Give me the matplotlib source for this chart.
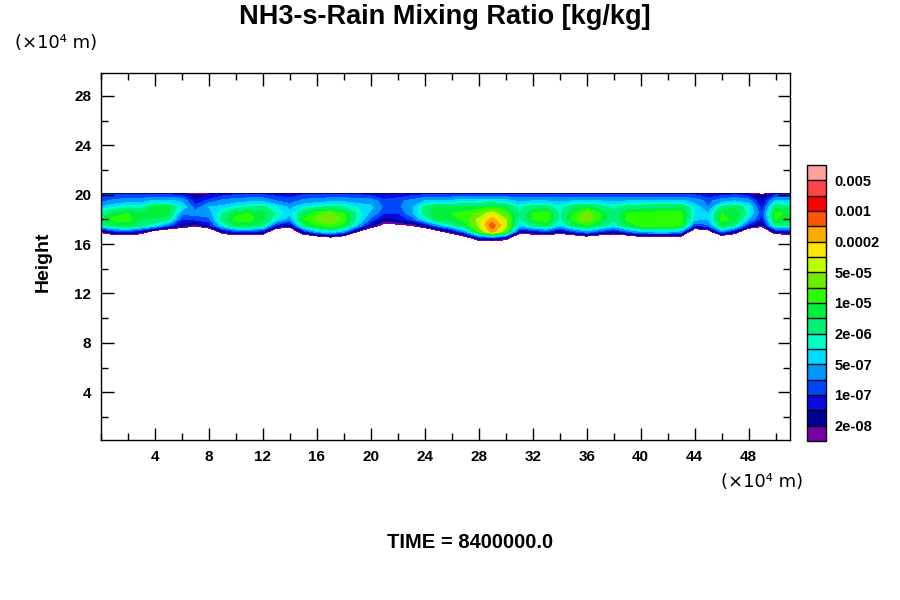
import numpy as np
import matplotlib
matplotlib.use('Agg')
import matplotlib.pyplot as plt
from matplotlib.ticker import MultipleLocator

plt.rcParams['font.family'] = ['Liberation Sans', 'DejaVu Sans']
plt.rcParams['font.weight'] = 'bold'

# horizontal positions (x10^4 m) of the sampled columns
x_pos = list(range(0, 53))
# heights (x10^4 m) of the sampled rows
heights = [16.0, 16.5, 17.0, 17.5, 18.0, 18.5, 19.0, 19.5, 20.0, 20.25]
# log10 of the mixing ratio [kg/kg], one list per column (bottom -> top)
log_ratio_columns = [
    [-9, -9, -7.8, -5.8, -5.3, -5.6, -6.3, -6.8, -7.0, -9],   # 0
    [-9, -9, -7.2, -5.3, -4.9, -5.2, -6.0, -6.6, -7.0, -9],   # 1
    [-9, -9, -7.0, -5.2, -4.9, -5.0, -5.8, -6.5, -7.0, -9],   # 2
    [-9, -9, -7.5, -5.6, -5.3, -5.3, -5.8, -6.5, -7.0, -9],   # 3
    [-9, -9, -8.5, -6.0, -5.4, -5.0, -5.2, -6.2, -7.0, -9],   # 4
    [-9, -9, -9.0, -6.8, -5.6, -5.1, -5.3, -6.2, -7.0, -9],   # 5
    [-9, -9, -9.0, -7.5, -7.0, -6.6, -6.0, -6.4, -7.1, -9],   # 6
    [-9, -9, -9.0, -7.9, -6.9, -6.6, -6.9, -7.2, -7.6, -9],   # 7
    [-9, -9, -9.0, -7.3, -6.8, -6.5, -6.3, -6.9, -7.3, -9],   # 8
    [-9, -9, -7.6, -6.0, -5.5, -5.7, -6.2, -6.6, -7.1, -9],   # 9
    [-9, -9, -7.0, -5.3, -4.9, -5.1, -5.9, -6.5, -7.0, -9],   # 10
    [-9, -9, -7.0, -5.2, -4.9, -5.0, -5.7, -6.4, -7.0, -9],   # 11
    [-9, -9, -7.3, -5.6, -5.2, -5.2, -5.6, -6.4, -7.0, -9],   # 12
    [-9, -9, -9.0, -7.2, -6.0, -5.8, -6.0, -6.7, -7.1, -9],   # 13
    [-9, -9, -9.0, -7.6, -6.5, -6.2, -6.4, -6.9, -7.1, -9],   # 14
    [-9, -9, -7.3, -5.5, -5.0, -5.3, -6.0, -6.6, -7.0, -9],   # 15
    [-9, -8.8, -6.3, -5.0, -4.6, -4.8, -5.8, -6.5, -7.0, -9], # 16
    [-9, -8.3, -6.0, -4.8, -4.3, -4.6, -5.6, -6.4, -7.0, -9], # 17
    [-9, -8.8, -6.5, -5.1, -4.8, -5.0, -5.7, -6.4, -7.0, -9], # 18
    [-9, -9, -8.0, -6.3, -5.8, -5.8, -6.0, -6.5, -7.0, -9],   # 19
    [-9, -9, -9.0, -7.5, -6.8, -6.4, -6.2, -6.5, -7.1, -9],   # 20
    [-9, -9, -9.0, -8.3, -7.5, -7.0, -6.8, -6.9, -7.3, -9],   # 21
    [-9, -9, -9.0, -8.2, -7.3, -7.0, -6.8, -6.8, -7.2, -9],   # 22
    [-9, -9, -9.0, -8.0, -6.9, -6.5, -6.4, -6.6, -7.1, -9],   # 23
    [-9, -9, -9.0, -7.5, -6.0, -5.5, -5.6, -6.3, -7.0, -9],   # 24
    [-9, -9, -8.3, -6.5, -5.2, -5.0, -5.2, -6.2, -7.0, -9],   # 25
    [-9, -9, -7.6, -5.8, -5.1, -5.0, -5.3, -6.2, -7.0, -9],   # 26
    [-9, -8.5, -6.5, -5.2, -4.9, -4.9, -5.2, -6.1, -7.0, -9], # 27
    [-9, -7.3, -4.8, -4.2, -4.2, -4.6, -5.2, -6.0, -7.0, -9], # 28
    [-9, -7.0, -3.5, -3.05, -3.5, -4.1, -5.0, -6.0, -7.0, -9],# 29
    [-9, -7.6, -4.6, -4.1, -4.3, -4.7, -5.3, -6.1, -7.0, -9], # 30
    [-9, -9, -7.5, -6.2, -5.8, -5.7, -5.8, -6.4, -7.0, -9],   # 31
    [-9, -9, -7.4, -5.6, -5.0, -5.0, -5.5, -6.3, -7.0, -9],   # 32
    [-9, -9, -7.0, -5.3, -4.7, -4.8, -5.5, -6.3, -7.0, -9],   # 33
    [-9, -9, -7.6, -6.2, -5.8, -5.8, -5.9, -6.4, -7.0, -9],   # 34
    [-9, -9, -7.0, -5.4, -4.9, -5.0, -5.4, -6.3, -7.0, -9],   # 35
    [-9, -8.6, -6.5, -5.0, -4.4, -4.5, -5.2, -6.2, -7.0, -9], # 36
    [-9, -9, -7.0, -5.5, -5.0, -5.0, -5.5, -6.3, -7.0, -9],   # 37
    [-9, -9, -7.4, -6.0, -5.6, -5.6, -5.8, -6.4, -7.0, -9],   # 38
    [-9, -9, -6.8, -5.3, -4.9, -5.0, -5.5, -6.3, -7.0, -9],   # 39
    [-9, -8.5, -6.3, -4.9, -4.7, -4.9, -5.5, -6.2, -7.0, -9], # 40
    [-9, -8.4, -6.2, -4.8, -4.7, -4.9, -5.4, -6.2, -7.0, -9], # 41
    [-9, -8.4, -6.2, -4.8, -4.7, -4.9, -5.4, -6.2, -7.0, -9], # 42
    [-9, -8.6, -6.5, -5.0, -4.8, -4.9, -5.3, -6.2, -7.0, -9], # 43
    [-9, -9, -9.0, -7.0, -6.2, -6.0, -6.0, -6.5, -7.0, -9],   # 44
    [-9, -9, -8.5, -6.8, -6.3, -6.3, -6.7, -6.8, -7.2, -9],   # 45
    [-9, -9, -6.6, -5.2, -4.9, -5.0, -5.6, -6.5, -7.1, -9],   # 46
    [-9, -9, -7.5, -5.7, -5.1, -5.0, -5.4, -6.3, -7.0, -9],   # 47
    [-9, -9, -9.0, -7.2, -6.3, -5.9, -5.9, -6.5, -7.2, -9],   # 48
    [-9, -9, -9.0, -7.8, -7.2, -7.0, -7.2, -7.4, -7.8, -9],   # 49
    [-9, -9, -7.5, -5.6, -5.0, -4.9, -5.4, -6.2, -7.0, -9],   # 50
    [-9, -9, -7.3, -5.7, -5.1, -5.1, -5.5, -6.3, -7.0, -9],   # 51
    [-9, -9, -7.3, -5.7, -5.1, -5.1, -5.5, -6.3, -7.0, -9],   # 52
]

level_values = [1e-8, 2e-8, 5e-8, 1e-7, 2e-7, 5e-7, 1e-6, 2e-6, 5e-6,
                1e-5, 2e-5, 5e-5, 1e-4, 2e-4, 5e-4, 1e-3, 2e-3, 5e-3, 1e-2]
level_colors = ['#7800aa', '#000096', '#0a0adc', '#0046ff', '#0096ff', '#00dcff',
                '#00ffc8', '#00f078', '#00f03c', '#28ff00', '#6eeb00', '#beff00',
                '#ffe600', '#ffaa00', '#ff5500', '#ff0000', '#ff4646', '#ffa0a0']
cbar_labels = ['2e-08', '1e-07', '5e-07', '2e-06', '1e-05', '5e-05',
               '0.0002', '0.001', '0.005']

title = 'NH3-s-Rain Mixing Ratio [kg/kg]'
time_text = 'TIME = 8400000.0'
unit_text = '(\u00d710\u2074 m)'

W, H = 900, 600
fig = plt.figure(figsize=(9, 6), dpi=100)
ax = fig.add_axes([101 / W, 1 - 440.3 / H, 689 / W, 367 / H])

Z = np.array(log_ratio_columns).T
levels = np.log10(level_values)
cs = ax.contourf(x_pos, heights, Z, levels=levels, colors=level_colors)

ax.set_xlim(0, 51.07)
ax.set_ylim(0.11, 29.83)
ax.xaxis.set_major_locator(MultipleLocator(4))
ax.xaxis.set_minor_locator(MultipleLocator(2))
ax.yaxis.set_major_locator(MultipleLocator(4))
ax.yaxis.set_minor_locator(MultipleLocator(2))
ax.tick_params(which='both', direction='in', top=True, right=True, width=1.0)
ax.tick_params(which='major', length=9, labelsize=11, pad=7)
ax.tick_params(which='minor', length=5)
ax.set_xticks([v for v in range(4, 52, 4)])
ax.set_yticks([v for v in range(4, 30, 4)])
for lab in ax.get_xticklabels() + ax.get_yticklabels():
    lab.set_fontweight('bold')
for sp in ax.spines.values():
    sp.set_linewidth(1.0)

cax = fig.add_axes([807 / W, 1 - 441 / H, 19 / W, 276 / H])
cb = fig.colorbar(cs, cax=cax, drawedges=True)
cb.set_ticks(levels[1:-1:2])
cb.set_ticklabels(cbar_labels)
cb.ax.tick_params(length=0, pad=6, labelsize=10.5)
for lab in cb.ax.get_yticklabels():
    lab.set_fontweight('bold')
cb.outline.set_linewidth(1.0)
cb.dividers.set_linewidth(1.0)
cb.dividers.set_color('black')

fig.text(445 / W, 1 - 17 / H, title, ha='center', va='center', fontsize=19.5, fontweight='bold')
fig.text(15 / W, 1 - 43 / H, unit_text, ha='left', va='center', fontsize=13, fontweight='normal',
         family=['DejaVu Sans'])
fig.text(803 / W, 1 - 482 / H, unit_text, ha='right', va='center', fontsize=13, fontweight='normal',
         family=['DejaVu Sans'])
fig.text(43 / W, 1 - 262 / H, 'Height', rotation=90, ha='center', va='center', fontsize=14,
         fontweight='bold')
fig.text(470 / W, 1 - 543 / H, time_text, ha='center', va='center', fontsize=14.5, fontweight='bold')

fig.savefig('out.png', dpi=100)
